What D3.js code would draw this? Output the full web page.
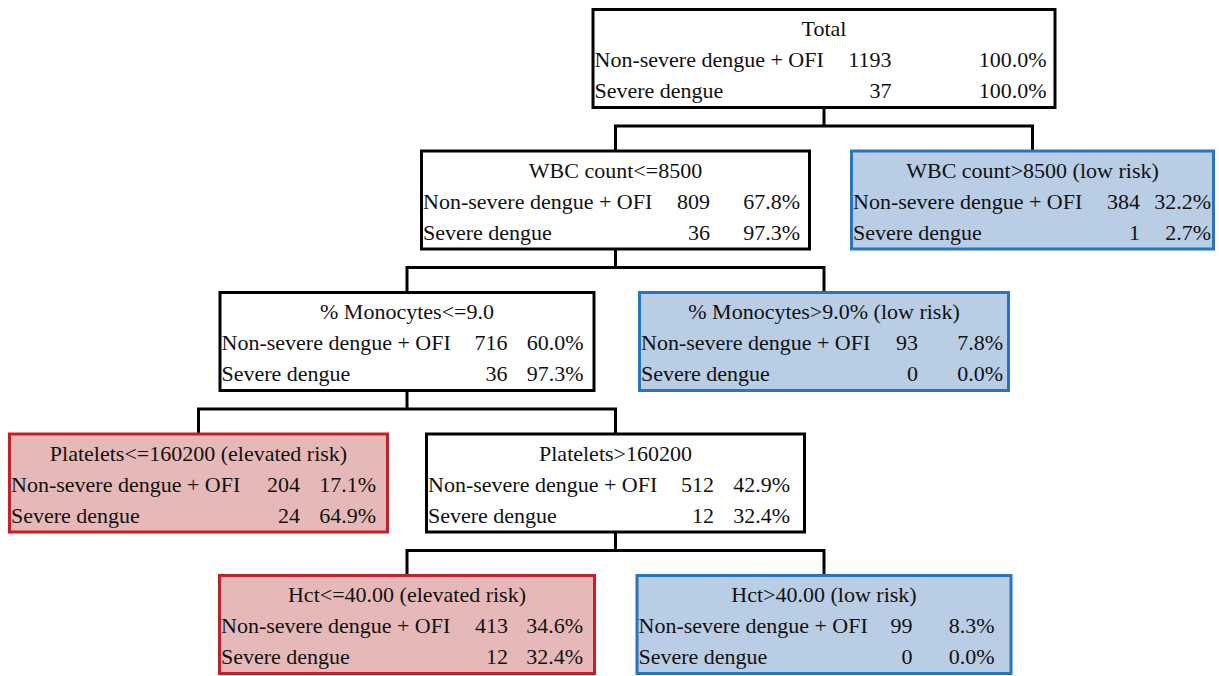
<!DOCTYPE html>
<html>
<head>
<meta charset="utf-8">
<script src="https://cdn.jsdelivr.net/npm/d3@7"></script>
<style>
  body { margin: 0; background: #fff; }
  svg { display: block; }
  text { font-family: "Liberation Serif", "Times New Roman", serif; font-size: 22px; fill: #111; }
</style>
</head>
<body>
<svg width="1219" height="676"></svg>
<script>
// tree data
var nodeNames = [
    "Total",
    "WBC count<=8500",
    "WBC count>8500 (low risk)",
    "% Monocytes<=9.0",
    "% Monocytes>9.0% (low risk)",
    "Platelets<=160200 (elevated risk)",
    "Platelets>160200",
    "Hct<=40.00 (elevated risk)",
    "Hct>40.00 (low risk)"
];
var parents = [null, 0, 0, 1, 1, 3, 3, 6, 6];
var riskGroup = ["none", "none", "low", "none", "low", "high", "none", "high", "low"];
var rowLabels = ["Non-severe dengue + OFI", "Severe dengue"];
var nonSevereCounts = [1193, 809, 384, 716, 93, 204, 512, 413, 99];
var nonSeverePct = ["100.0%", "67.8%", "32.2%", "60.0%", "7.8%", "17.1%", "42.9%", "34.6%", "8.3%"];
var severeCounts = [37, 36, 1, 36, 0, 24, 12, 12, 0];
var severePct = ["100.0%", "97.3%", "2.7%", "97.3%", "0.0%", "64.9%", "32.4%", "32.4%", "0.0%"];

// layout: column slot, box width, insets of the two number columns from the right edge
var nodeCol = [3, 2, 4, 1, 3, 0, 2, 1, 3];
var nodeWidth = [465, 391, 365, 377, 372, 381, 381, 378, 377];
var countInset = [165, 101, 75, 88, 92, 89, 92, 88, 100];
var pctInset = [10, 11, 4, 12, 7, 13, 16, 13, 18];

var colors = {
    none: { fill: "#ffffff", stroke: "#000000" },
    low:  { fill: "#b9cde5", stroke: "#2674c2" },
    high: { fill: "#e6b9b8", stroke: "#c4202c" }
};

var rows = nodeNames.map(function (name, i) {
    return { id: String(i), parentId: parents[i] === null ? null : String(parents[i]), name: name, i: i };
});
var root = d3.stratify()(rows);

var boxH = 101;
var xScale = d3.scaleLinear().domain([0, 4]).range([198.5, 1032.5]);
var yScale = d3.scaleLinear().domain([0, 4]).range([8, 574]);

root.each(function (d) {
    d.cx = xScale(nodeCol[d.data.i]);
    d.top = yScale(d.depth);
    d.w = nodeWidth[d.data.i];
    d.left = d.cx - d.w / 2;
});

var svg = d3.select("svg");

// connectors
var links = svg.append("g");
root.descendants().filter(function (d) { return d.children; }).forEach(function (p) {
    var midY = p.top + boxH + 17;
    var xs = p.children.map(function (c) { return c.cx; });
    var path = d3.path();
    path.moveTo(p.cx, p.top + boxH);
    path.lineTo(p.cx, midY);
    path.moveTo(d3.min(xs), midY);
    path.lineTo(d3.max(xs), midY);
    p.children.forEach(function (c) {
        path.moveTo(c.cx, midY);
        path.lineTo(c.cx, c.top);
    });
    links.append("path")
        .attr("d", path.toString())
        .attr("fill", "none")
        .attr("stroke", "#000")
        .attr("stroke-width", 3)
        .attr("stroke-linecap", "square");
});

// boxes
var boxes = svg.selectAll(".node")
    .data(root.descendants())
    .enter()
    .append("g")
    .attr("class", "node")
    .attr("transform", function (d) { return "translate(" + d.left + "," + d.top + ")"; });

boxes.append("rect")
    .attr("x", 1.5)
    .attr("y", 1.5)
    .attr("width", function (d) { return d.w - 3; })
    .attr("height", boxH - 3)
    .attr("fill", function (d) { return colors[riskGroup[d.data.i]].fill; })
    .attr("stroke", function (d) { return colors[riskGroup[d.data.i]].stroke; })
    .attr("stroke-width", 3);

boxes.append("text")
    .attr("x", function (d) { return d.w / 2; })
    .attr("y", 28)
    .attr("text-anchor", "middle")
    .text(function (d) { return d.data.name; });

var rowY = [59, 90];
var counts = [nonSevereCounts, severeCounts];
var pcts = [nonSeverePct, severePct];

rowLabels.forEach(function (label, r) {
    boxes.append("text")
        .attr("x", 3)
        .attr("y", rowY[r])
        .text(label);
    boxes.append("text")
        .attr("x", function (d) { return d.w - countInset[d.data.i]; })
        .attr("y", rowY[r])
        .attr("text-anchor", "end")
        .text(function (d) { return counts[r][d.data.i]; });
    boxes.append("text")
        .attr("x", function (d) { return d.w - pctInset[d.data.i]; })
        .attr("y", rowY[r])
        .attr("text-anchor", "end")
        .text(function (d) { return pcts[r][d.data.i]; });
});
</script>
</body>
</html>
